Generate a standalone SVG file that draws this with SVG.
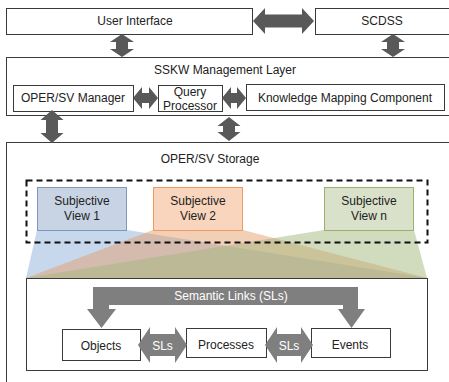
<svg xmlns="http://www.w3.org/2000/svg" width="449" height="382" viewBox="0 0 449 382">
  <style>
    .box { fill: #ffffff; stroke: #3a3a3a; stroke-width: 1; }
    .t { font-family: "Liberation Sans", Arial, sans-serif; font-size: 12px; fill: #222222; text-anchor: middle; }
    .tw { font-family: "Liberation Sans", Arial, sans-serif; font-size: 12px; fill: #ffffff; text-anchor: middle; }
    .dark { fill: #595959; }
    .mid { fill: #7f7f7f; }
  </style>
  <rect width="449" height="382" fill="#ffffff"/>

  <!-- top layer -->
  <g id="user-interface">
    <rect class="box" x="6.5" y="8.5" width="246" height="26"/>
    <text class="t" x="135" y="25">User Interface</text>
  </g>
  <g id="scdss">
    <rect class="box" x="315.5" y="8.5" width="140" height="26"/>
    <text class="t" x="382" y="25">SCDSS</text>
  </g>

  <!-- management layer -->
  <g id="sskw-layer">
    <rect class="box" x="6.5" y="57.5" width="450" height="58"/>
    <text class="t" x="225" y="74">SSKW Management Layer</text>
  </g>
  <g id="oper-sv-manager">
    <rect class="box" x="13.5" y="85.5" width="120" height="26"/>
    <text class="t" x="73" y="102">OPER/SV Manager</text>
  </g>
  <g id="query-processor">
    <rect class="box" x="158.5" y="85.5" width="64" height="26"/>
    <text class="t" x="190" y="96">Query</text>
    <text class="t" x="190" y="110">Processor</text>
  </g>
  <g id="knowledge-mapping">
    <rect class="box" x="246.5" y="84.5" width="198" height="26"/>
    <text class="t" x="345" y="102">Knowledge Mapping Component</text>
  </g>

  <!-- storage -->
  <g id="storage">
    <rect class="box" x="6.5" y="142.5" width="450" height="260"/>
    <text class="t" x="210" y="163">OPER/SV Storage</text>
  </g>

  <!-- view projections onto the semantic layer -->
  <g id="fan">
    <polygon points="37,230 127,230 427,278 26,278" fill="#8fb1db" fill-opacity="0.5"/>
    <polygon points="153,230 243,230 427,278 26,278" fill="#e39a68" fill-opacity="0.48"/>
    <polygon points="324,230 414,230 427,278 26,278" fill="#a3b87e" fill-opacity="0.5"/>
  </g>

  <g id="view-group">
    <rect x="26.5" y="180.5" width="401" height="62" fill="none" stroke="#111111" stroke-width="2" stroke-dasharray="6,4"/>
  </g>
  <g id="view-1">
    <rect x="37.5" y="187.5" width="89" height="43" fill="#c8d4e4" stroke="#7b98bf" stroke-width="1"/>
    <text class="t" x="82" y="205">Subjective</text>
    <text class="t" x="82" y="220">View 1</text>
  </g>
  <g id="view-2">
    <rect x="153.5" y="187.5" width="89" height="43" fill="#f9d5bd" stroke="#ef9a5c" stroke-width="1"/>
    <text class="t" x="198" y="205">Subjective</text>
    <text class="t" x="198" y="220">View 2</text>
  </g>
  <g id="view-n">
    <rect x="324.5" y="187.5" width="89" height="43" fill="#d9e1ca" stroke="#9cb06b" stroke-width="1"/>
    <text class="t" x="369" y="205">Subjective</text>
    <text class="t" x="369" y="220">View n</text>
  </g>

  <!-- semantic layer -->
  <g id="semantic-layer">
    <rect class="box" x="26.5" y="278.5" width="401" height="92"/>
  </g>
  <g id="objects">
    <rect class="box" x="62.5" y="329.5" width="78" height="31"/>
    <text class="t" x="101" y="350">Objects</text>
  </g>
  <g id="processes">
    <rect class="box" x="186.5" y="328.5" width="80" height="29"/>
    <text class="t" x="226" y="349">Processes</text>
  </g>
  <g id="events">
    <rect class="box" x="311.5" y="328.5" width="79" height="29"/>
    <text class="t" x="350" y="349">Events</text>
  </g>

  <!-- connectors -->
  <g id="connectors">
    <polygon class="dark" points="253,21 265,8 265,14.5 302,14.5 302,8 314,21 302,34 302,27.5 265,27.5 265,34"/>
    <polygon class="dark" points="122,34 134,42 128,42 128,49 134,49 122,57 110,49 116,49 116,42 110,42"/>
    <polygon class="dark" points="393,34 405,42 399,42 399,49 405,49 393,57 381,49 387,49 387,42 381,42"/>
    <polygon class="dark" points="133,98 142,87 142,93 149,93 149,87 158,98 149,109 149,103 142,103 142,109"/>
    <polygon class="dark" points="222,98 231,87 231,93 237,93 237,87 246,98 237,109 237,103 231,103 231,109"/>
    <polygon class="dark" points="52,110 63.5,120 58,120 58,133 63.5,133 52,143 40.5,133 46,133 46,120 40.5,120"/>
    <polygon class="dark" points="229,117 240.5,126 235,126 235,132 240.5,132 229,141 217.5,132 223,132 223,126 217.5,126"/>

    <polygon class="mid" points="93,287 358,287 358,309 365,309 351.5,328 338,309 343,309 343,305 109,305 109,309 116,309 101.5,328 87,309 93,309"/>
    <text class="tw" x="231" y="300">Semantic Links (SLs)</text>

    <polygon class="mid" points="138,345 150,327 150,334 175,334 175,327 187,345 175,363 175,356 150,356 150,363"/>
    <text class="tw" x="162.5" y="350">SLs</text>
    <polygon class="mid" points="265,345 277,327 277,334 301,334 301,327 313,345 301,363 301,356 277,356 277,363"/>
    <text class="tw" x="289" y="350">SLs</text>
  </g>
</svg>
